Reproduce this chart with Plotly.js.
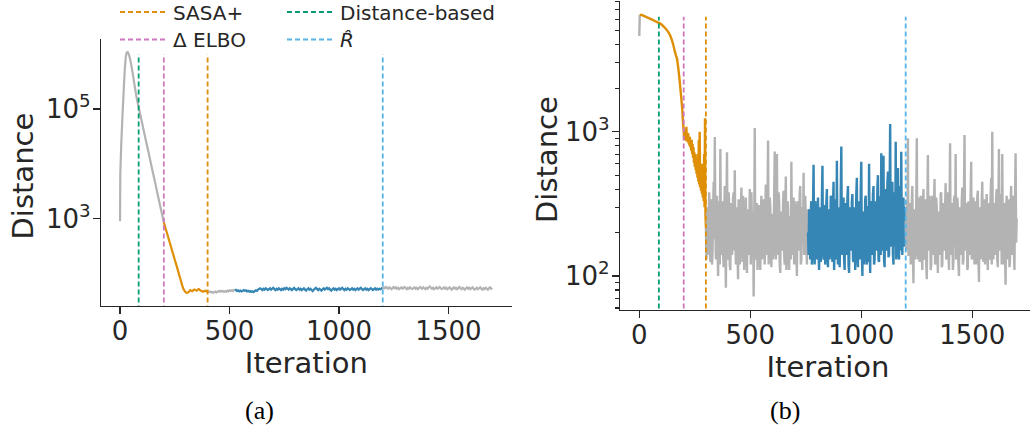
<!DOCTYPE html>
<html><head><meta charset="utf-8">
<script src="https://cdn.plot.ly/plotly-3.0.1.min.js"></script>
<style>html,body{margin:0;padding:0;overflow:hidden;background:#fff}#chart{width:1040px;height:432px}</style>
</head><body><div id="chart"></div>
<script>
// ---------- DATA ----------
// Panel (a)
const aGray1X = [0,1,5,8,12,15,18,22,26,30,35,40,45,50,55,60,65,70,76,84,90,100,110,120,130,140,150,160,170,180,190,200];
const aGray1Y = [890,6200,20000,40000,89000,158000,282000,562000,891000,1070000,1100000,1000000,851000,676000,525000,398000,295000,219000,158000,112000,87000,57500,37200,24500,16200,10500,6900,4570,2950,1950,1290,850];
const aOrangeRange = [200, 400];
const aOrangeY = [851,724,617,531,453,387,331,282,240,207,176,151,129,110,93,80,68,58,51,47.3,44.7,43.6,44.2,45.7,49,47.9,46.8,49,50.1,49,47.9,50,51.3,49,47.9,46.8,45.7,47.3,47.9,46.2,46.8];
const aGray2Range = [400, 525];
const aGray2Y = [46.8,45.5,46.2,44.6,45.3,43.8,44.9,46,44.5,45.6,47,45.8,47.5,46.3,47.1,45.6,46.8,45.9,47.8,46.6,48.4,47.2,48.8,47.5,49.2,48.3];
const aBlueRange = [525, 1200];
const aBlueY = [48.3,49.5,47,48.5,46.5,48,46.5,47.5,49,47.5,48.5,46.5,47.5,46,47,45.5,46.5,45,47,48.5,47.5,50,51.5,53,51,49,52,50,53,51,49,51,53,50,52,54,51,49,52,50,53,51,49,52,50,53,51,54,52,50,53,51,49,52,54,51,49,51,53,50,52,49,51,53,50,48,51,53,50,52,49,47,50,52,54,51,49,52,50,48,51,53,50,52,54,51,53,50,48,51,53,50,52,49,51,53,50,52,54,51,49,52,50,53,51,49,51,53,50,52,49,51,53,50,52,54,51,49,51,53,50,52,49,51,53,51,49,51,53,50,52,50,52,51,53,52];
const aGray3Range = [1200, 1700];
const aGray3Y = [52,55,53,56,54,52,55,53,51,54,56,53,55,52,54,51,53,55,52,54,56,53,51,54,52,55,53,51,53,55,52,54,51,53,56,54,52,55,53,51,54,52,55,57,54,52,54,51,53,55,52,54,56,53,51,53,55,52,54,51,53,55,52,50,53,55,52,54,51,53,56,53,51,54,52,50,53,55,52,54,51,53,55,52,50,52,54,51,53,55,52,50,53,51,54,52,50,53,55,52,54];
const aStops = {sasa: 400, elbo: 200, dist: 85, rhat: 1200};
const aVlineTop = 1.0e6;

// Panel (b)
const bGray1X = [0, 2];
const bGray1Y = [4600, 6450];
const bOrangeX = [2,11,20,30,40,50,60,70,80,93,100,110,120,130,138,145,150,155,160,165,170,175,180,185,190,194,197];
const bOrangeY = [6450,6440,6350,6250,6150,6050,5950,5850,5750,5640,5530,5350,5150,4920,4680,4400,4150,3880,3600,3380,3200,2800,2400,2000,1650,1400,1150];
const bOrangeNoiseRange = [200, 300];
const bOrangeNoiseY = [1000,880,1020,870,960,900,1080,860,940,850,980,830,900,800,920,780,860,740,880,700,820,660,780,610,720,570,700,540,650,510,620,480,700,450,880,430,1000,410,560,390,520,370,600,350,480,330,700,300,1240,270,220];
const bGray2Range = [300, 760];
const bGray2Y = [220,130,300,170,140,240,380,190,125,340,260,120,150,290,450,180,920,240,130,200,360,150,100,330,280,120,760,210,140,270,330,140,115,250,420,160,83,300,720,130,150,380,310,120,110,320,260,140,170,350,380,150,540,200,120,260,300,140,95,340,270,120,160,290,410,170,125,360,240,110,180,300,350,140,105,250,290,180,140,400,230,120,380,210,160,280,72,190,1060,150,130,280,320,110,150,310,270,140,110,250,360,130,170,340,250,160,120,290,430,180,140,320,870,120,160,350,300,150,115,270,260,130,190,360,730,170,130,290,700,140,150,380,330,120,105,260,280,150,180,310,390,140,120,270,490,110,150,330,300,160,110,240,260,130,620,180,140,300,350,120,170,330,230,140,100,280,330,150,160,370,420,120,130,300,290,170,520,140,150,360,260,180,120,290,200];
const bBlueRange = [760, 1200];
const bBlueY = [200,140,290,170,130,280,330,120,150,300,590,160,120,330,280,130,170,260,350,140,110,300,260,125,190,340,580,150,130,270,310,120,150,320,400,140,115,290,270,130,200,360,340,150,125,310,450,110,160,340,300,130,630,170,120,300,260,115,180,380,790,160,140,290,350,130,110,320,280,140,170,350,420,120,105,280,300,170,150,330,370,130,125,300,260,110,190,370,480,140,115,310,330,130,160,390,620,150,100,270,280,120,170,340,360,140,120,300,300,125,600,180,105,320,330,140,180,370,420,120,130,330,290,150,200,410,500,130,125,350,350,140,710,190,150,380,680,130,115,300,400,150,190,440,530,135,140,360,1130,160,170,390,450,140,120,340,380,160,850,130,160,400,560,145,130,370,420,150,725,180,140,330,350,160,180,300,240];
const bGray3Range = [1200, 1700];
const bGray3Y = [240,150,330,180,900,140,140,320,300,120,170,330,420,150,89,290,280,130,160,310,900,170,130,300,350,125,180,360,260,140,110,290,400,130,150,340,310,120,95,270,690,150,170,360,280,110,120,300,360,140,190,330,470,120,130,350,300,160,105,280,250,140,170,370,380,115,120,320,290,150,200,300,440,130,140,380,330,150,110,290,830,140,160,320,270,110,125,340,360,160,700,130,150,350,300,120,100,300,260,140,180,330,410,120,130,360,950,150,170,280,320,110,115,330,280,140,200,370,620,130,140,300,350,160,120,330,290,120,180,350,390,140,91,280,300,130,160,330,450,150,125,340,270,120,190,300,370,145,110,310,320,130,150,360,480,120,1000,170,130,320,300,140,170,350,400,130,115,300,760,160,150,370,330,120,700,180,120,320,280,140,87,300,360,130,160,340,260,115,130,310,420,140,180,360,300,150,110,330,710,170,250];
const bStops = {sasa: 300, elbo: 200, dist: 88, rhat: 1200};
const bVlineTop = 6270;

const stopKeys = ['sasa', 'elbo', 'dist', 'rhat'];
const legendNames = {sasa: 'SASA+', elbo: 'Δ ELBO', dist: 'Distance-based', rhat: '<i>R\u0302</i>'};
const yTickValsA = [1e3, 1e5];
const yTickTextA = ['10<sup>3</sup>', '10<sup>5</sup>'];
const yTickValsB = [1e2, 1e3];
const yTickTextB = ['10<sup>2</sup>', '10<sup>3</sup>'];
const yMinorB = [60,70,80,90,200,300,400,500,600,700,800,900,2000,3000,4000,5000,6000,7000,8000];
const xTickVals = [0, 500, 1000, 1500];
const xTitle = 'Iteration', yTitle = 'Distance';
const captions = ['(a)', '(b)'];

// ---------- STYLE ----------
const W = 1040, H = 432;
const C = {gray: '#b3b3b3', orange: '#de8f05', blue: '#3586b5', green: '#029e73', pink: '#cc78bc', lblue: '#56b4e9', ink: '#262626'};
const vColor = {sasa: C.orange, elbo: C.pink, dist: C.green, rhat: C.lblue};
const FONT = 'DejaVu Sans, sans-serif';
// legend slot positions (px): [legend id, left, centre-y]
const legendSlot = {sasa: ['legend', 115, 12], elbo: ['legend2', 115, 39.5], dist: ['legend3', 282, 12], rhat: ['legend4', 282, 39.5]};

function span(r, n) { const out = []; for (let i = 0; i < n; i++) out.push(r[0] + (r[1] - r[0]) * i / (n - 1)); return out; }
function line(x, y, color, w, xa, ya) {
  return {x: x, y: y, xaxis: xa, yaxis: ya, mode: 'lines', line: {color: color, width: w, simplify: false}, showlegend: false, hoverinfo: 'skip'};
}

const traces = [];
// panel a data
traces.push(line(aGray1X, aGray1Y, C.gray, 2.2, 'x', 'y'));
traces.push(line(span(aOrangeRange, aOrangeY.length), aOrangeY, C.orange, 2.2, 'x', 'y'));
traces.push(line(span(aGray2Range, aGray2Y.length), aGray2Y, C.gray, 2.2, 'x', 'y'));
traces.push(line(span(aBlueRange, aBlueY.length), aBlueY, C.blue, 2.2, 'x', 'y'));
traces.push(line(span(aGray3Range, aGray3Y.length), aGray3Y, C.gray, 2.2, 'x', 'y'));
// panel b data
traces.push(line(bGray1X, bGray1Y, C.gray, 2.4, 'x2', 'y2'));
traces.push(line(bOrangeX.concat(span(bOrangeNoiseRange, bOrangeNoiseY.length)), bOrangeY.concat(bOrangeNoiseY), C.orange, 2.4, 'x2', 'y2'));
traces.push(line(span(bGray2Range, bGray2Y.length), bGray2Y, C.gray, 2.4, 'x2', 'y2'));
traces.push(line(span(bBlueRange, bBlueY.length), bBlueY, C.blue, 2.4, 'x2', 'y2'));
traces.push(line(span(bGray3Range, bGray3Y.length), bGray3Y, C.gray, 2.4, 'x2', 'y2'));

// vertical stop lines
stopKeys.forEach(k => {
  traces.push({x: [aStops[k], aStops[k]], y: [1, aVlineTop], xaxis: 'x', yaxis: 'y', mode: 'lines', name: legendNames[k],
    line: {color: vColor[k], width: 1.8, dash: '5px,3px'}, legend: legendSlot[k][0], showlegend: true, hoverinfo: 'skip'});
  traces.push({x: [bStops[k], bStops[k]], y: [1, bVlineTop], xaxis: 'x2', yaxis: 'y2', mode: 'lines', name: legendNames[k],
    line: {color: vColor[k], width: 1.8, dash: '5px,3px'}, showlegend: false, hoverinfo: 'skip'});
});

function xax(domPx, range) {
  return {domain: [domPx[0] / W, domPx[1] / W], range: range, tickmode: 'array', tickvals: xTickVals,
    ticks: 'outside', ticklen: 7, tickwidth: 1.25, tickcolor: C.ink, showline: true, linecolor: C.ink, linewidth: 1.25,
    showgrid: false, zeroline: false, tickfont: {family: FONT, size: 26, color: C.ink}, ticklabelstandoff: -5,
    title: {text: xTitle, font: {family: FONT, size: 29, color: C.ink}, standoff: 0}};
}
function yax(domPx, range, tv, tt) {
  return {domain: [1 - domPx[1] / H, 1 - domPx[0] / H], type: 'log', range: range, tickmode: 'array', tickvals: tv, ticktext: tt,
    ticks: 'outside', ticklen: 7, tickwidth: 1.25, tickcolor: C.ink, showline: true, linecolor: C.ink, linewidth: 1.25,
    showgrid: false, zeroline: false, tickfont: {family: FONT, size: 26, color: C.ink}, ticklabelstandoff: -3};
}
function yTitleAnn(xPx, yPx) {
  return {text: yTitle, textangle: -90, xref: 'paper', yref: 'paper', x: xPx / W, y: 1 - yPx / H, showarrow: false,
    xanchor: 'center', yanchor: 'middle', font: {family: FONT, size: 29, color: C.ink}};
}
function captionAnn(text, xPx, yPx) {
  return {text: text, xref: 'paper', yref: 'paper', x: xPx / W, y: 1 - yPx / H, showarrow: false, xanchor: 'center', yanchor: 'middle',
    font: {family: 'Liberation Serif, serif', size: 26, color: '#000'}};
}

const layout = {
  width: W, height: H, margin: {l: 0, r: 0, t: 0, b: 0, autoexpand: false}, paper_bgcolor: '#fff', plot_bgcolor: '#fff',
  font: {family: FONT, color: C.ink},
  xaxis: Object.assign(xax([101, 511.7], [-87, 1789]), {anchor: 'y'}),
  yaxis: Object.assign(yax([39, 306], [1.40, 6.28], yTickValsA, yTickTextA), {anchor: 'x'}),
  xaxis2: Object.assign(xax([620, 1036], [-87, 1787]), {anchor: 'y2'}),
  yaxis2: Object.assign(yax([1, 310], [1.7644, 3.9057], yTickValsB, yTickTextB), {anchor: 'x2',
    minor: {tickmode: 'array', tickvals: yMinorB, ticks: 'outside', ticklen: 4, tickwidth: 1.1, tickcolor: C.ink, showgrid: false}}),
  annotations: [
    yTitleAnn(22.5, 176), yTitleAnn(547, 160),
    captionAnn(captions[0], 259, 410), captionAnn(captions[1], 785, 410)
  ],
  showlegend: true
};
stopKeys.forEach(k => {
  const s = legendSlot[k];
  layout[s[0]] = {x: s[1] / W, y: 1 - s[2] / H, xanchor: 'left', yanchor: 'middle',
    bgcolor: 'rgba(0,0,0,0)', borderwidth: 0, font: {family: FONT, size: 20, color: C.ink}, itemwidth: 48};
});

Plotly.newPlot('chart', traces, layout, {staticPlot: true, displayModeBar: false});
</script>
</body></html>
